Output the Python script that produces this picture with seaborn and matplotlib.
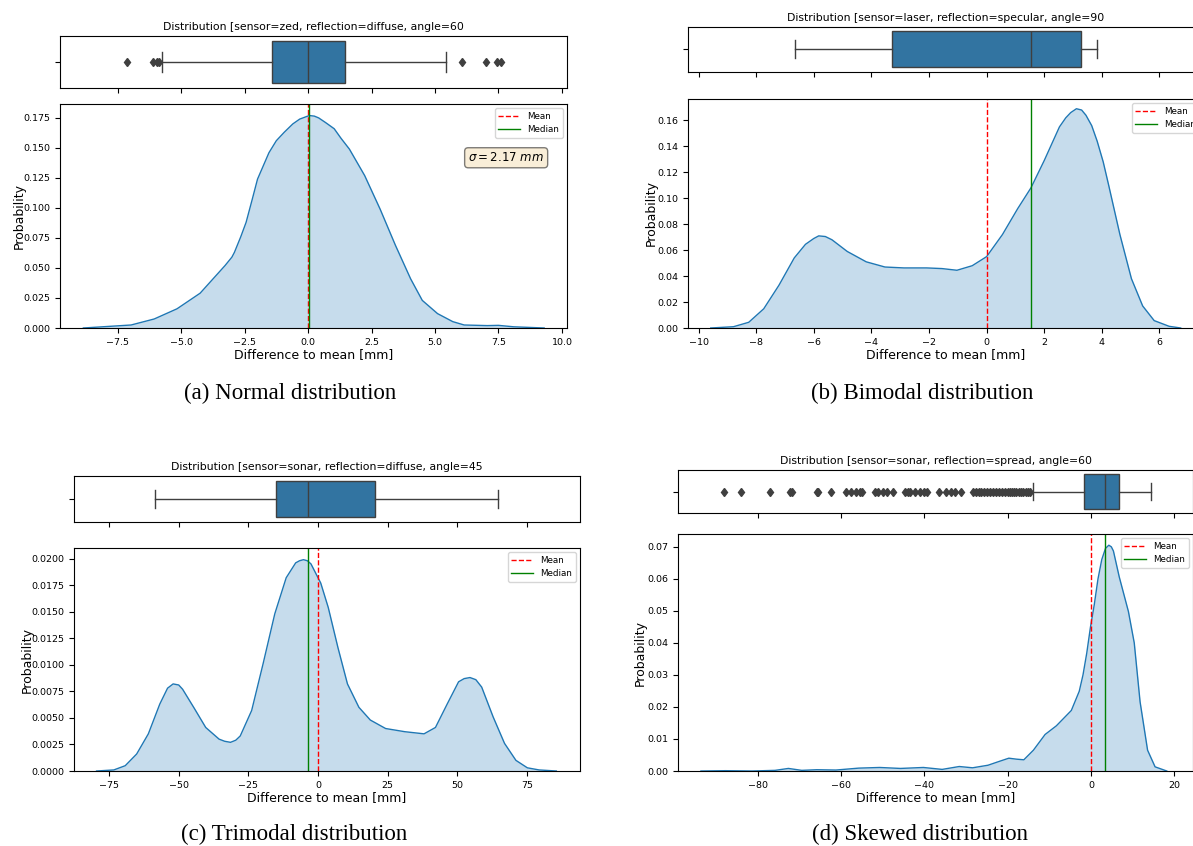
import matplotlib
matplotlib.use("Agg")
import matplotlib.pyplot as plt
import seaborn as sns

# ---- data ----
titles = [
    "Distribution [sensor=zed, reflection=diffuse, angle=60",
    "Distribution [sensor=laser, reflection=specular, angle=90",
    "Distribution [sensor=sonar, reflection=diffuse, angle=45",
    "Distribution [sensor=sonar, reflection=spread, angle=60",
]
captions = ["(a) Normal distribution", "(b) Bimodal distribution",
            "(c) Trimodal distribution", "(d) Skewed distribution"]

# KDE curves (x, density)
kde_a_x = [-8.85, -6.97, -6.06, -5.16, -4.25, -3.27, -3.0, -2.9, -2.65, -2.44, -2.2, -1.99,
           -1.54, -1.25, -0.94, -0.6, -0.33, 0.05, 0.25, 0.42, 0.7, 1.03, 1.3, 1.63, 2.23,
           2.84, 3.44, 4.04, 4.5, 5.1, 5.7, 6.15, 7.06, 7.5, 8.1, 9.3]
kde_a_y = [0.0, 0.0025, 0.0075, 0.016, 0.029, 0.052, 0.059, 0.063, 0.076, 0.088, 0.107, 0.124,
           0.146, 0.156, 0.163, 0.170, 0.174, 0.177, 0.1765, 0.175, 0.171, 0.166, 0.158, 0.149,
           0.127, 0.099, 0.069, 0.041, 0.023, 0.012, 0.0053, 0.0025, 0.002, 0.0022, 0.001, 0.0]

kde_b_x = [-9.58, -8.79, -8.26, -7.74, -7.21, -6.68, -6.29, -6.0, -5.83, -5.6, -5.37, -4.84,
           -4.18, -3.53, -2.87, -2.08, -1.55, -1.03, -0.5, 0.0, 0.55, 1.08, 1.54, 2.0, 2.53,
           2.75, 2.92, 3.12, 3.3, 3.45, 3.65, 3.84, 4.05, 4.24, 4.63, 5.03, 5.42, 5.82, 6.34,
           6.74]
kde_b_y = [0.0, 0.001, 0.0044, 0.0148, 0.033, 0.054, 0.0645, 0.069, 0.071, 0.0705, 0.068,
           0.059, 0.051, 0.047, 0.0463, 0.0463, 0.0458, 0.0445, 0.048, 0.055, 0.072, 0.092,
           0.108, 0.129, 0.155, 0.162, 0.166, 0.169, 0.168, 0.164, 0.156, 0.144, 0.128, 0.11,
           0.072, 0.038, 0.017, 0.0057, 0.0013, 0.0]

kde_c_x = [-79.5, -73.3, -69.2, -65.1, -60.9, -56.8, -54.0, -52.0, -50.0, -48.6, -44.4, -40.3,
           -35.5, -33.5, -31.4, -29.5, -27.9, -23.8, -19.7, -15.5, -11.4, -8.0, -6.6, -5.2,
           -3.8, -2.5, 1.0, 3.7, 7.2, 10.6, 14.7, 18.8, 24.3, 31.2, 38.1, 42.2, 46.4, 50.5,
           52.5, 54.6, 56.7, 58.8, 62.9, 67.0, 71.1, 75.2, 79.4, 85.6]
kde_c_y = [0.0, 0.0001, 0.0005, 0.0016, 0.0035, 0.0063, 0.0078, 0.0082, 0.0081, 0.0077,
           0.0059, 0.0041, 0.003, 0.0028, 0.0027, 0.0029, 0.0033, 0.0057, 0.0101, 0.0148,
           0.0182, 0.0196, 0.0198, 0.0199, 0.0198, 0.0195, 0.0177, 0.0154, 0.0116, 0.0082,
           0.006, 0.0048, 0.004, 0.0037, 0.0035, 0.0041, 0.0063, 0.0084, 0.0087, 0.0088,
           0.0086, 0.0079, 0.0051, 0.0026, 0.001, 0.0003, 0.0001, 0.0]

kde_d_x = [-93.6, -87.7, -81.3, -75.8, -72.6, -69.4, -65.8, -61.2, -55.7, -50.7, -45.7, -40.2,
           -35.7, -31.6, -28.4, -24.7, -22.0, -19.7, -17.9, -16.1, -13.8, -11.0, -8.3, -4.7,
           -2.8, -1.9, -1.0, -0.1, 0.8, 1.7, 2.6, 3.5, 4.3, 4.9, 5.4, 6.8, 9.0, 10.4, 11.8,
           13.6, 15.4, 18.2]
kde_d_y = [0.0, 0.0001, 0.0, 0.0002, 0.0008, 0.0002, 0.0004, 0.0003, 0.0009, 0.0011, 0.0008,
           0.0011, 0.0005, 0.0014, 0.001, 0.0018, 0.003, 0.004, 0.0037, 0.0035, 0.0065, 0.0114,
           0.0141, 0.0189, 0.0249, 0.030, 0.0368, 0.045, 0.0519, 0.060, 0.066, 0.0695, 0.0705,
           0.070, 0.0687, 0.0606, 0.0498, 0.04, 0.0216, 0.0065, 0.0013, 0.0]

# box stats: whisker low, q1, median, q3, whisker high
box_a = [-5.74, -1.43, 0.0, 1.45, 5.44]
box_b = [-6.66, -3.29, 1.54, 3.29, 3.84]
box_c = [-58.5, -14.9, -3.4, 20.6, 64.8]
box_d = [-13.8, -1.6, 3.3, 6.8, 14.4]

fliers_a = [-7.13, -6.12, -5.95, -5.88, 6.07, 7.0, 7.45, 7.6]
fliers_b = []
fliers_c = []
fliers_d = [-88.0, -83.9, -77.1, -72.3, -71.7, -65.7, -65.4, -62.3, -58.7, -57.6, -56.5, -55.4,
            -54.9, -51.8, -51.0, -50.0, -48.9, -47.6, -44.7, -44.0, -43.4, -42.2, -41.1, -40.0,
            -39.4, -36.5, -34.7, -33.5, -32.7, -31.3, -28.4, -27.7, -26.9, -26.4, -25.7, -24.9,
            -24.2, -23.5, -22.8, -22.0, -21.3, -20.6, -20.0, -19.5, -18.9, -18.4, -17.9, -17.3,
            -16.8, -16.2, -15.7, -15.1, -14.6]

means = [0.0, 0.0, 0.0, 0.0]
medians = [0.02, 1.54, -3.4, 3.3]

xlims = [(-9.77, 10.2), (-10.37, 7.55), (-87.6, 94.1), (-99.1, 24.5)]
ylims = [(0, 0.1866), (0, 0.1765), (0, 0.0210), (0, 0.0740)]

# ---- layout in pixels of the 1193x846 picture ----
W, H = 1193, 846
# (x0, box y0, box y1, kde y0, kde y1, x1)
panels = [
    (60, 36, 88, 104, 328, 567),
    (688, 27, 72, 99, 328, 1204),
    (74, 476, 522, 548, 771, 580),
    (678, 470, 513, 534, 771, 1193),
]
ylabel_pad = [-1.5, -0.5, -2, 0]
caption_pos = [(290, 393), (922, 393), (294, 834), (920, 834)]


def rect(x0, y0, x1, y1):
    return [x0 / W, 1 - y1 / H, (x1 - x0) / W, (y1 - y0) / H]


fig = plt.figure(figsize=(W / 100, H / 100), dpi=100)

kdes = [(kde_a_x, kde_a_y), (kde_b_x, kde_b_y), (kde_c_x, kde_c_y), (kde_d_x, kde_d_y)]
boxes = [box_a, box_b, box_c, box_d]
fliers = [fliers_a, fliers_b, fliers_c, fliers_d]

blue = "#1f77b4"
box_face = "#3274a1"
line_gray = "#3f3f3f"

for i in range(4):
    bx0, by0, by1, ky0, ky1, x1 = panels[i]
    ax_box = fig.add_axes(rect(bx0, by0, x1, by1))
    ax_kde = fig.add_axes(rect(bx0, ky0, x1, ky1))

    # boxplot from stats
    lo, q1, med, q3, hi = boxes[i]
    stats = [dict(whislo=lo, q1=q1, med=med, q3=q3, whishi=hi, fliers=fliers[i])]
    ax_box.bxp(stats, positions=[0], widths=0.8, vert=False, patch_artist=True,
               boxprops=dict(facecolor=box_face, edgecolor=line_gray, linewidth=1.0),
               medianprops=dict(color=line_gray, linewidth=1.0),
               whiskerprops=dict(color=line_gray, linewidth=1.0),
               capprops=dict(color=line_gray, linewidth=1.0),
               flierprops=dict(marker="d", markerfacecolor=line_gray,
                               markeredgecolor=line_gray, markersize=4.5))
    ax_box.set_ylim(0.5, -0.5)
    ax_box.set_yticks([0])
    ax_box.set_yticklabels([""])
    ax_box.set_xlim(*xlims[i])
    ax_box.tick_params(axis="x", labelbottom=False, length=3.5)
    ax_box.set_title(titles[i], fontsize=7.8, pad=4)

    # kde curve
    kx, ky = kdes[i]
    sns.lineplot(x=kx, y=ky, ax=ax_kde, color=blue, linewidth=1.0)
    ax_kde.fill_between(kx, ky, color=blue, alpha=0.25, linewidth=0)
    ax_kde.axvline(means[i], color="red", linestyle="--", linewidth=1.0, label="Mean")
    ax_kde.axvline(medians[i], color="green", linestyle="-", linewidth=1.0, label="Median")
    ax_kde.set_xlim(*xlims[i])
    ax_kde.set_ylim(*ylims[i])
    ax_kde.tick_params(labelsize=6.8, length=3.5)
    ax_kde.set_xlabel("Difference to mean [mm]", fontsize=9, labelpad=1)
    ax_kde.set_ylabel("Probability", fontsize=9, labelpad=ylabel_pad[i])
    ax_kde.legend(loc="upper right", fontsize=6.3, handlelength=2.5, borderpad=0.4,
                  labelspacing=0.5)

    cx, cy = caption_pos[i]
    fig.text(cx / W, 1 - cy / H, captions[i], ha="center", va="center",
             fontsize=16.5, family="Liberation Serif")

# sigma box for the normal distribution
fig.axes[1].text(0.88, 0.76, r"$\sigma = 2.17\ mm$", transform=fig.axes[1].transAxes,
                 ha="center", va="center", fontsize=8.5,
                 bbox=dict(boxstyle="round", facecolor="wheat", alpha=0.5))

fig.savefig("out.png", dpi=100)
